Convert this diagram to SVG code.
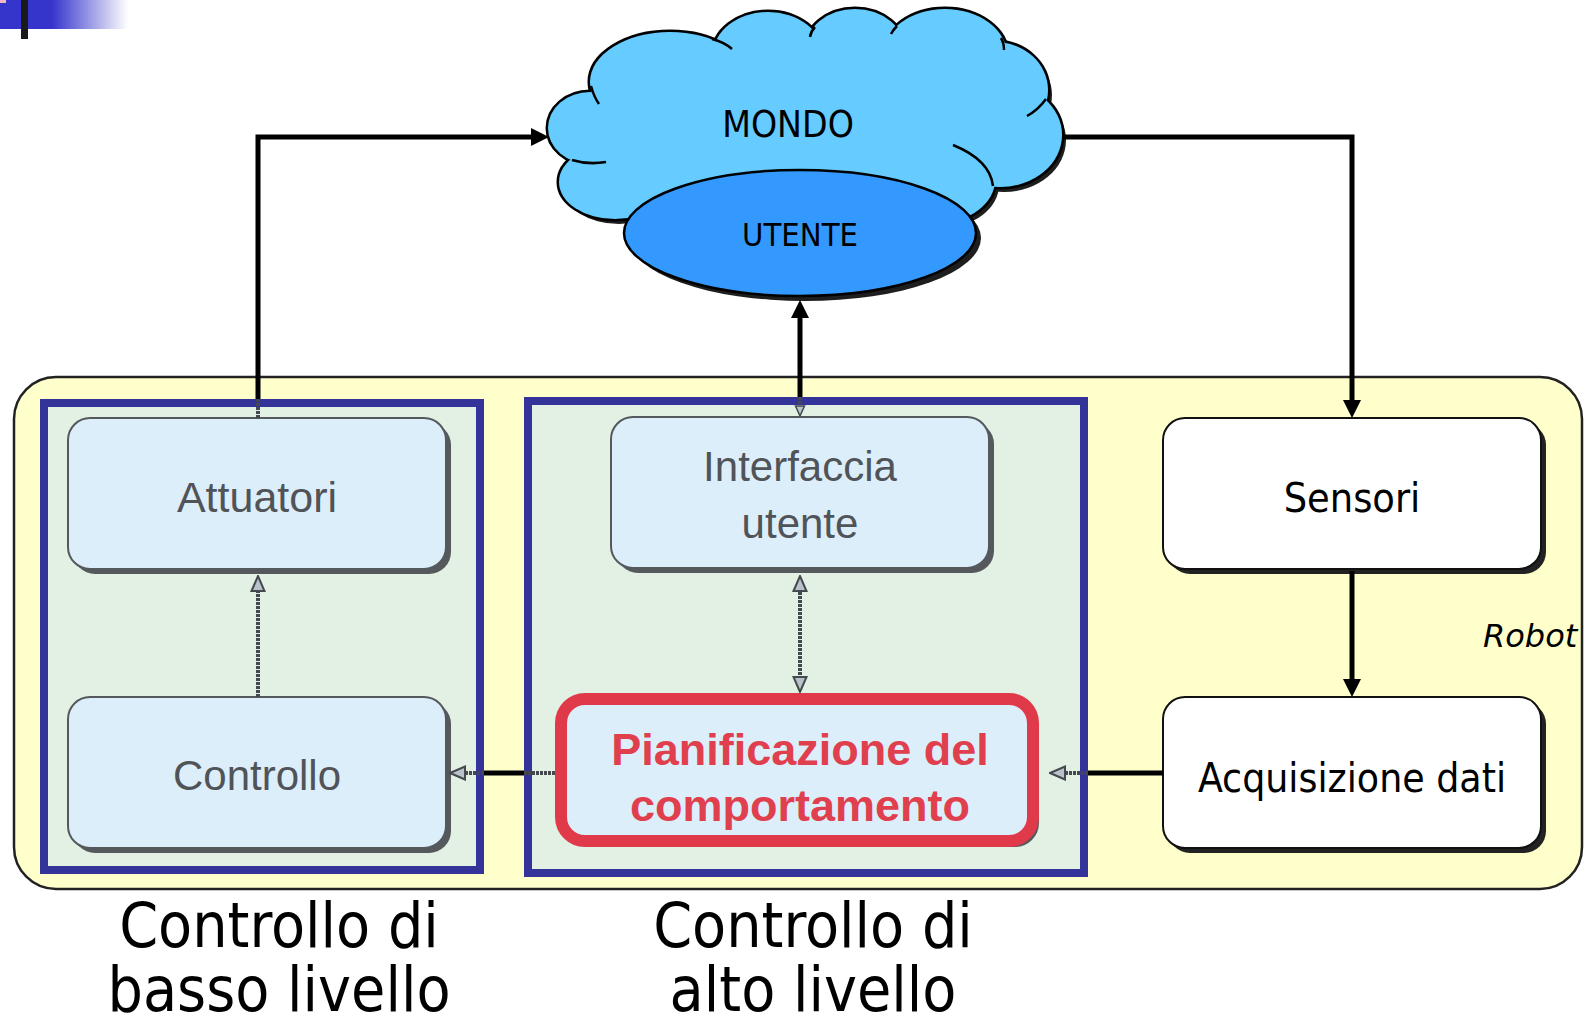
<svg xmlns="http://www.w3.org/2000/svg" width="1585" height="1020" viewBox="0 0 1585 1020">
<defs>
<style>
.t{font-family:"DejaVu Sans Condensed","DejaVu Sans",sans-serif;font-stretch:condensed;fill:#000;text-anchor:middle}
.a{font-family:"Liberation Sans",Arial,sans-serif;text-anchor:middle;fill:#505458}
.ar{font-family:"Liberation Sans",Arial,sans-serif;font-weight:bold;text-anchor:middle;fill:#E0404E}
.wire{fill:none;stroke:#000;stroke-width:5}
.gwire{fill:none;stroke:#45494d;stroke-width:4;stroke-dasharray:3 1}
.frame{fill:#E3F1E4;stroke:#333399;stroke-width:8}
.gbox{fill:#DCEEFA;stroke:#55595d;stroke-width:2}
.gsh{fill:#55595c}
.wbox{fill:#fff;stroke:#111;stroke-width:2}
.wsh{fill:#222}
</style>
<linearGradient id="fade" x1="0" x2="1" y1="0" y2="0">
<stop offset="0" stop-color="#3535CC"/>
<stop offset="1" stop-color="#3535CC" stop-opacity="0"/>
</linearGradient>
<marker id="ah" markerUnits="userSpaceOnUse" viewBox="0 0 18 18" refX="0" refY="9" markerWidth="18" markerHeight="18" orient="auto">
<path d="M0,0L18,9L0,18z" fill="#000"/>
</marker>
<marker id="gh" markerUnits="userSpaceOnUse" viewBox="0 0 17 16" refX="0" refY="8" markerWidth="17" markerHeight="16" orient="auto-start-reverse">
<path d="M1,1.5L16,8L1,14.5z" fill="#B8C2CA" stroke="#45494d" stroke-width="2"/>
</marker>
<marker id="ghs" markerUnits="userSpaceOnUse" viewBox="0 0 12 12" refX="0" refY="6" markerWidth="12" markerHeight="12" orient="auto">
<path d="M1,1.5L11,6L1,10.5z" fill="#B8C2CA" stroke="#45494d" stroke-width="1.5"/>
</marker>
<g id="cloudShape">
<ellipse cx="590" cy="128" rx="42" ry="36"/>
<ellipse cx="615" cy="182" rx="56" ry="37"/>
<ellipse cx="670" cy="82" rx="80" ry="50"/>
<ellipse cx="768" cy="55" rx="55" ry="43"/>
<ellipse cx="855" cy="50" rx="50" ry="41"/>
<ellipse cx="945" cy="55" rx="62" ry="46"/>
<ellipse cx="995" cy="90" rx="53" ry="48"/>
<ellipse cx="1000" cy="135" rx="62" ry="52"/>
<ellipse cx="940" cy="180" rx="55" ry="42"/>
<ellipse cx="800" cy="130" rx="200" ry="90"/>
</g>
</defs>

<g id="decoration">
<rect x="0" y="0" width="52" height="29" fill="#3535CC"/>
<rect x="52" y="0" width="76" height="29" fill="url(#fade)"/>
<rect x="21" y="0" width="7" height="39" fill="#1a1a1a"/>
<rect x="0" y="0" width="6" height="3" fill="#F4B8C0"/>
</g>

<g id="robot">
<rect x="14" y="377" width="1568" height="512" rx="42" fill="#FFFFCC" stroke="#222" stroke-width="2.5"/>
<text x="1483" y="647" font-family="DejaVu Sans, sans-serif" font-style="italic" font-size="32" fill="#000">Robot</text>
</g>

<g id="frame-basso">
<rect class="frame" x="44" y="403" width="436" height="467"/>
</g>
<g id="frame-alto">
<rect class="frame" x="528" y="401" width="556" height="472"/>
</g>

<g id="attuatori">
<rect class="gsh" x="73" y="423" width="378" height="151" rx="22"/>
<rect class="gbox" x="68" y="418" width="378" height="151" rx="22"/>
<text class="a" x="257" y="512" font-size="43">Attuatori</text>
</g>
<g id="controllo">
<rect class="gsh" x="73" y="702" width="378" height="151" rx="22"/>
<rect class="gbox" x="68" y="697" width="378" height="151" rx="22"/>
<text class="a" x="257" y="790" font-size="42">Controllo</text>
</g>
<g id="interfaccia">
<rect class="gsh" x="616" y="422" width="378" height="151" rx="22"/>
<rect class="gbox" x="611" y="417" width="378" height="151" rx="22"/>
<text class="a" font-size="42"><tspan x="800" y="481">Interfaccia</tspan><tspan x="800" y="538">utente</tspan></text>
</g>
<g id="pianificazione">
<rect class="gsh" x="567" y="705" width="472" height="142" rx="24"/>
<rect x="561" y="699" width="472" height="142" rx="24" fill="#DCEEFA" stroke="#E03A4A" stroke-width="12"/>
<text class="ar" font-size="45"><tspan x="800" y="765">Pianificazione del</tspan><tspan x="800" y="821">comportamento</tspan></text>
</g>
<g id="sensori">
<rect class="wsh" x="1168" y="423" width="378" height="151" rx="22"/>
<rect class="wbox" x="1163" y="418" width="378" height="151" rx="22"/>
<text class="t" x="1352" y="512" font-size="41">Sensori</text>
</g>
<g id="acquisizione">
<rect class="wsh" x="1168" y="702" width="378" height="151" rx="22"/>
<rect class="wbox" x="1163" y="697" width="378" height="151" rx="22"/>
<text class="t" x="1352" y="792" font-size="40.5">Acquisizione dati</text>
</g>

<g id="mondo">
<use href="#cloudShape" transform="translate(4,5)" fill="#1e1e1e"/>
<use href="#cloudShape" fill="#000" stroke="#000" stroke-width="5"/>
<use href="#cloudShape" fill="#66CCFF"/>
<g fill="none" stroke="#000" stroke-width="2.5">
<path d="M572,160 Q588,165 606,162"/>
<path d="M591,86 Q594,97 599,104"/>
<path d="M712,39 Q724,42 732,49"/>
<path d="M815,27 Q811,31 810,37"/>
<path d="M897,26 Q893,30 891,34"/>
<path d="M1001,38 Q1004,43 1004,50"/>
<path d="M1046,99 Q1038,110 1027,116"/>
<path d="M993,186 Q990,160 953,145"/>
</g>
<text class="t" x="788" y="137" font-size="37">MONDO</text>
</g>
<g id="utente">
<ellipse cx="805" cy="238" rx="176" ry="63" fill="#1e1e1e"/>
<ellipse cx="800" cy="233" rx="176" ry="63" fill="#3399FF" stroke="#000" stroke-width="2.5"/>
<text class="t" x="800" y="246" font-size="32.5">UTENTE</text>
</g>

<g id="connectors">
<path class="wire" d="M258,399 V137 H531" marker-end="url(#ah)"/>
<path class="wire" d="M1062,137 H1352 V400" marker-end="url(#ah)"/>
<path class="wire" d="M800,397 V318" marker-end="url(#ah)"/>
<path class="wire" d="M1352,571 V679" marker-end="url(#ah)"/>
<path class="wire" d="M1163,773 H1088"/>
<path class="wire" d="M524,773 H484"/>
<path class="gwire" d="M1088,773 H1066" marker-end="url(#gh)"/>
<path class="gwire" d="M555,773 H524"/>
<path class="gwire" d="M484,773 H466" marker-end="url(#gh)"/>
<path class="gwire" d="M258,697 V592" marker-end="url(#gh)"/>
<path class="gwire" d="M258,399 V418"/>
<path class="gwire" d="M800,397 V405" marker-end="url(#ghs)"/>
<path class="gwire" d="M800,592 V676" marker-start="url(#gh)" marker-end="url(#gh)"/>
</g>

<g id="labels">
<text class="t" font-size="62"><tspan x="279" y="947">Controllo di</tspan><tspan x="279" y="1011">basso livello</tspan></text>
<text class="t" font-size="62"><tspan x="813" y="947">Controllo di</tspan><tspan x="813" y="1011">alto livello</tspan></text>
</g>
</svg>
